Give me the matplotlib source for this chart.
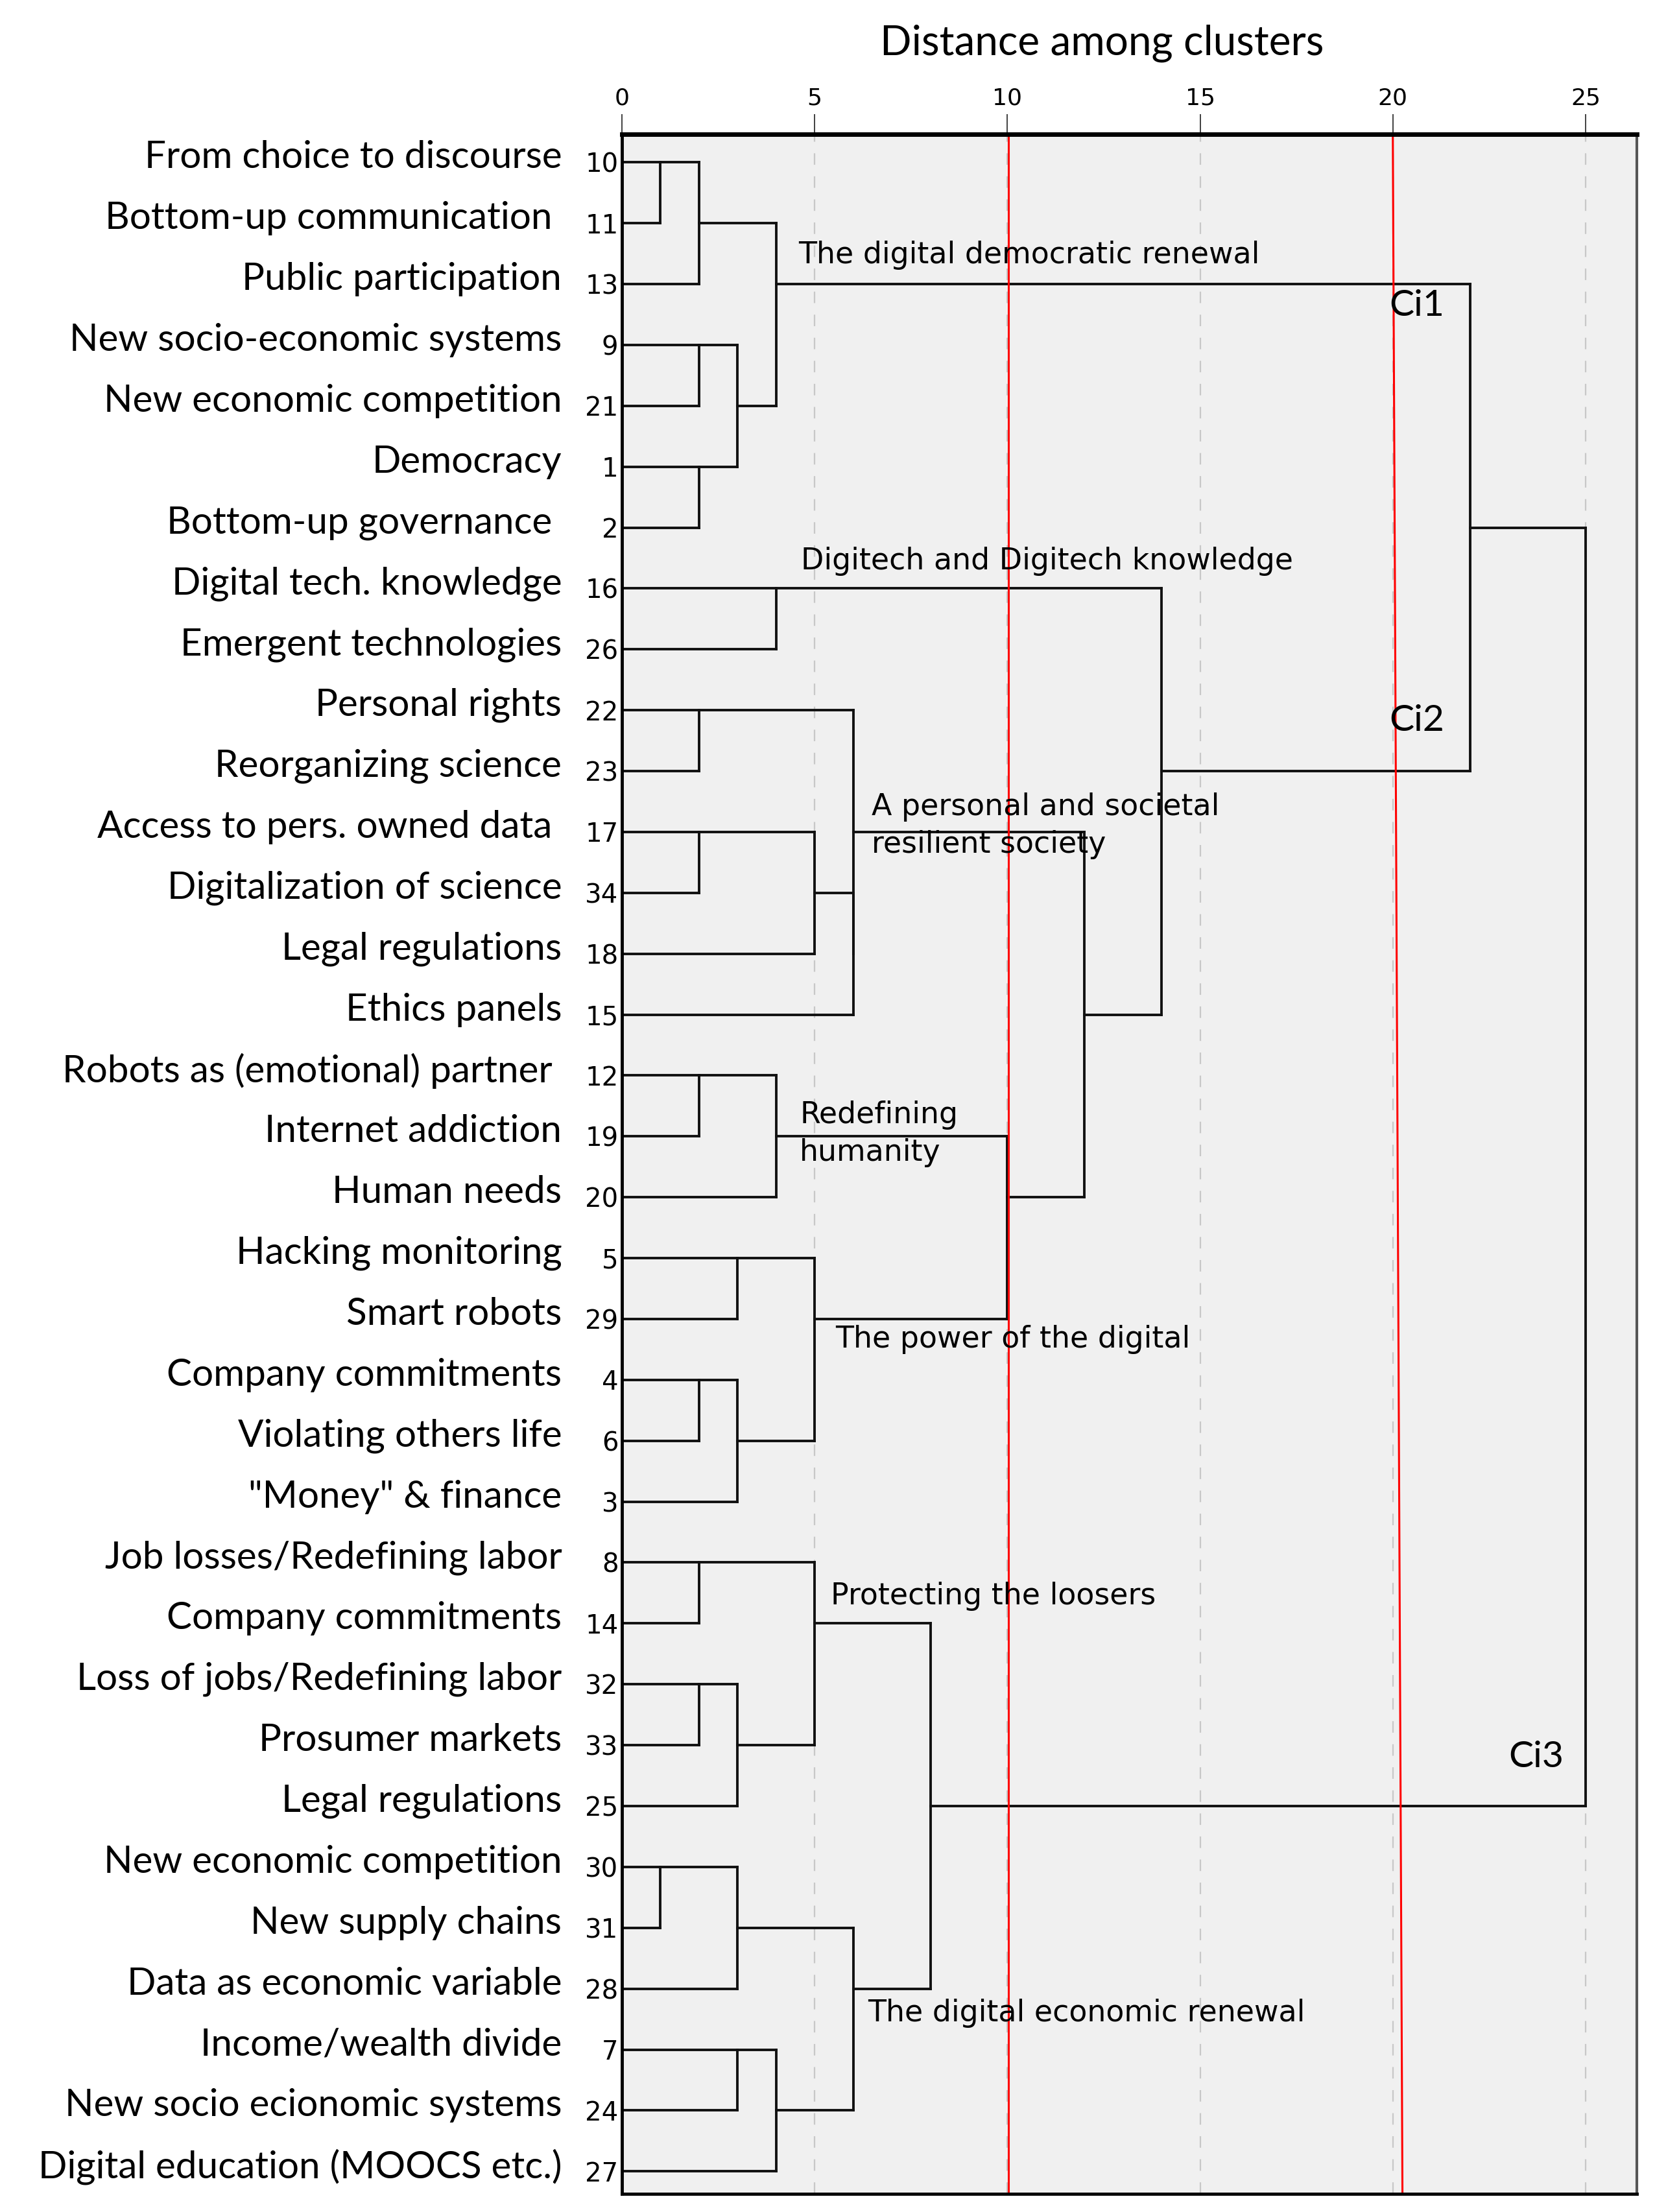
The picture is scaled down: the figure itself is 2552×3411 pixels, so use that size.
import matplotlib
matplotlib.use("Agg")
import matplotlib.pyplot as plt

# leaves top to bottom: case number and label
leaf_ids = [10, 11, 13, 9, 21, 1, 2, 16, 26, 22, 23, 17, 34, 18, 15, 12, 19, 20,
            5, 29, 4, 6, 3, 8, 14, 32, 33, 25, 30, 31, 28, 7, 24, 27]
leaf_labels = ["From choice to discourse", "Bottom-up communication ", "Public participation",
               "New socio-economic systems", "New economic competition", "Democracy",
               "Bottom-up governance ", "Digital tech. knowledge", "Emergent technologies",
               "Personal rights", "Reorganizing science", "Access to pers. owned data ",
               "Digitalization of science", "Legal regulations", "Ethics panels",
               "Robots as (emotional) partner ", "Internet addiction", "Human needs",
               "Hacking monitoring", "Smart robots", "Company commitments",
               "Violating others life", "\"Money\" & finance", "Job losses/Redefining labor",
               "Company commitments", "Loss of jobs/Redefining labor", "Prosumer markets",
               "Legal regulations", "New economic competition", "New supply chains",
               "Data as economic variable", "Income/wealth divide", "New socio ecionomic systems",
               "Digital education (MOOCS etc.)"]

# agglomeration steps: children (leaf id or earlier step "m#") and rescaled distance
merge_a = [10, "m0", 9, 1, "m2", "m1", 16, 22, 17, "m8", "m9", "m7", 12, "m12", 5, 4, "m15",
           "m14", "m13", "m11", "m6", "m5", 8, 32, "m23", "m22", 30, "m26", 7, "m28", "m27",
           "m25", "m21"]
merge_b = [11, 13, 21, 2, "m3", "m4", 26, 23, 34, 18, 15, "m10", 19, 20, 29, 6, 3,
           "m16", "m17", "m18", "m19", "m20", 14, 33, 25, "m24", 31, 28, 24, 27, "m29",
           "m30", "m31"]
merge_h = [1, 2, 2, 2, 3, 4, 4, 2, 2, 5, 6, 6, 2, 4, 3, 2, 3,
           5, 10, 12, 14, 22, 2, 2, 3, 5, 1, 3, 3, 4, 6,
           8, 25]

cluster_names = {"m5": "The digital democratic renewal",
                 "m6": "Digitech and Digitech knowledge",
                 "m11": "A personal and societal\nresilient society",
                 "m13": "Redefining\nhumanity",
                 "m17": "The power of the digital",
                 "m25": "Protecting the loosers",
                 "m30": "The digital economic renewal"}
cut_labels = ["Ci1", "Ci2", "Ci3"]
xticks = [0, 5, 10, 15, 20, 25]

label_font = ["Lato", "DejaVu Sans"]
narrow_font = ["Liberation Sans Narrow", "DejaVu Sans"]

fig = plt.figure(figsize=(25.52, 34.11), dpi=100)
ax = fig.add_axes([0.3758, 0.0082, 0.6132, 0.9311])
ax.set_facecolor("#f0f0f0")
n = len(leaf_ids)
ax.set_xlim(0, 26.33)
ax.set_ylim(n - 1 + 0.37, -0.46)

for t in xticks[1:]:
    ax.axvline(t, color="#c8c8c8", lw=1.6, dashes=(8, 8), zorder=1)

# SPSS style dendrogram
pos = {leaf: (0, i) for i, leaf in enumerate(leaf_ids)}
line_kw = dict(color="#111111", lw=2.8, solid_capstyle="projecting", zorder=3)
for k, (a, b, h) in enumerate(zip(merge_a, merge_b, merge_h)):
    xa, ra = pos[a]
    xb, rb = pos[b]
    ax.plot([xa, h], [ra, ra], **line_kw)
    ax.plot([xb, h], [rb, rb], **line_kw)
    ax.plot([h, h], [ra, rb], **line_kw)
    pos["m%d" % k] = (h, (ra + rb) // 2)

# cut lines
ax.plot([10.03, 10.03], [-0.46, n - 0.63], color="red", lw=2.2, zorder=4)
ax.plot([20.0, 20.25], [-0.46, n - 0.63], color="red", lw=2.2, zorder=4)

# cluster names next to their connectors
offsets = {"m5": (0.58, -0.47), "m6": (0.65, -0.45), "m11": (0.48, -0.1),
           "m13": (0.61, -0.04), "m17": (0.53, 0.34), "m25": (0.42, -0.45),
           "m30": (0.37, 0.4)}
for key, name in cluster_names.items():
    h, r = pos[key]
    dx, dy = offsets[key]
    ax.text(h + dx, r + dy, name, fontsize=33, family="DejaVu Sans", ha="left",
            va="center", linespacing=1.35, zorder=5)

ax.text(19.9, 2.36, cut_labels[0], fontsize=41, family=label_font, va="center", zorder=5)
ax.text(19.9, 9.17, cut_labels[1], fontsize=41, family=label_font, va="center", zorder=5)
ax.text(23.0, 26.2, cut_labels[2], fontsize=41, family=label_font, va="center", zorder=5)

# axis styling
ax.xaxis.tick_top()
ax.set_xticks(xticks)
ax.set_xticklabels([str(t) for t in xticks], family=narrow_font, fontsize=26)
ax.tick_params(axis="x", length=22, width=1.3, pad=6, color="#333333")
ax.set_yticks(range(n))
ax.set_yticklabels([str(i) for i in leaf_ids], family=narrow_font, fontsize=29)
ax.tick_params(axis="y", length=0, pad=4)
for i, lab in enumerate(leaf_labels):
    ax.text(-1.56, i - 0.08, lab, ha="right", va="center", fontsize=42, family=label_font,
            clip_on=False)

ax.spines["top"].set_linewidth(5)
ax.spines["left"].set_linewidth(3.5)
ax.spines["bottom"].set_linewidth(3.5)
ax.spines["right"].set_linewidth(3)
ax.spines["right"].set_color("#555555")
for s in ax.spines.values():
    s.set_zorder(6)

fig.text(0.6657, 0.9805, "Distance among clusters", ha="center", va="center",
         fontsize=46, family=label_font)

fig.savefig("out.png", dpi=100, facecolor="white")
